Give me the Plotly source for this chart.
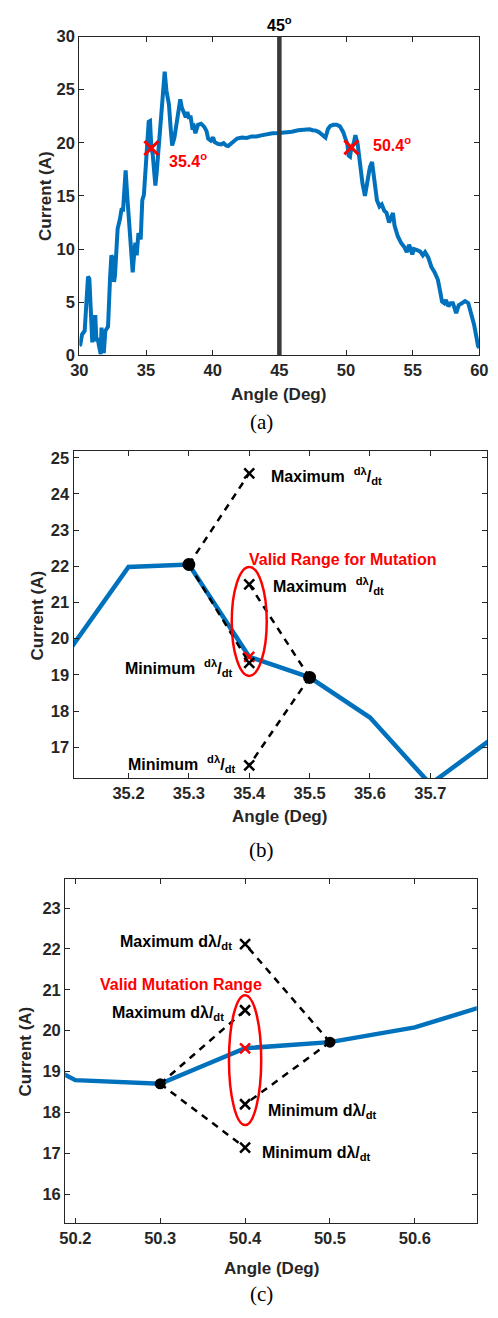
import plotly.graph_objects as go

# ---------------- data ----------------
angle = [30.0, 30.07, 30.2, 30.4, 30.55, 30.65, 30.75, 30.9, 30.97, 31.05, 31.2, 31.28, 31.37, 31.47,
         31.6, 31.66, 31.76, 31.83, 31.95, 32.15, 32.3, 32.4, 32.5, 32.6, 32.67, 32.77, 32.87, 33.04,
         33.16, 33.28, 33.4, 33.47, 33.59, 33.76, 33.88, 34.0, 34.12, 34.2, 34.3, 34.43, 34.6, 34.72,
         34.84, 34.96, 35.1, 35.2, 35.3, 35.4, 35.5, 35.6, 35.7, 35.8, 36.05, 36.24, 36.4, 36.53,
         36.72, 36.84, 36.96, 37.13, 37.3, 37.45, 37.57, 37.69, 37.8, 37.98, 38.1, 38.2, 38.35, 38.46,
         38.58, 38.7, 38.9, 39.13, 39.37, 39.54, 39.66, 39.86, 40.03, 40.15, 40.39, 40.63, 40.82, 41.0,
         41.16, 41.35, 41.59, 41.83, 42.2, 42.55, 42.92, 43.28, 43.64, 44.0, 44.48, 45.0, 45.45, 45.93,
         46.41, 46.9, 47.26, 47.5, 47.74, 47.98, 48.22, 48.46, 48.65, 48.82, 49.06, 49.3, 49.54, 49.79,
         49.98, 50.1, 50.2, 50.3, 50.4, 50.5, 50.6, 50.7, 50.87, 51.04, 51.23, 51.42, 51.59, 51.79,
         51.95, 52.15, 52.32, 52.51, 52.68, 52.87, 53.04, 53.23, 53.4, 53.52, 53.64, 53.88, 54.12, 54.36,
         54.56, 54.73, 54.97, 55.09, 55.33, 55.57, 55.76, 55.93, 56.17, 56.41, 56.65, 56.89, 57.06, 57.2,
         57.37, 57.49, 57.68, 57.85, 58.02, 58.26, 58.45, 58.69, 58.93, 59.17, 59.36, 59.6, 59.9, 60.0]
current = [0.9, 1.0, 1.95, 2.3, 5.4, 7.4, 7.2, 4.0, 1.2, 3.6, 3.6, 1.3, 1.6, 0.9,
           0.1, 2.6, 0.3, 0.2, 2.3, 2.7, 7.2, 9.4, 9.1, 6.9, 7.5, 9.1, 11.9, 12.8,
           13.7, 13.7, 17.4, 17.4, 15.0, 11.5, 9.1, 7.8, 9.7, 10.6, 9.4, 11.5, 10.9, 14.6,
           15.1, 17.1, 19.63, 21.98, 22.05, 19.5, 18.93, 17.82, 15.98, 17.21, 21.5, 24.2, 26.7, 24.9,
           23.6, 21.5, 19.75, 20.5, 22.1, 23.6, 24.1, 23.3, 23.0, 22.4, 22.9, 22.4, 22.4, 21.5,
           21.6, 20.9, 21.7, 21.8, 21.5, 21.1, 20.4, 20.2, 20.5, 20.06, 19.9, 19.85, 19.97, 19.75,
           19.7, 19.9, 20.1, 20.4, 20.5, 20.46, 20.6, 20.6, 20.7, 20.8, 20.9, 20.93, 20.96, 21.05,
           21.18, 21.27, 21.27, 21.18, 21.15, 21.0, 20.8, 20.5, 21.3, 21.6, 21.7, 21.7, 21.55, 21.0,
           20.3, 19.87, 18.79, 18.7, 19.57, 19.72, 20.08, 20.72, 19.9, 18.05, 16.2, 15.0, 16.2, 17.7,
           18.2, 16.5, 14.6, 14.0, 14.2, 13.6, 13.4, 12.5, 13.1, 13.4, 12.2, 11.2, 10.6, 10.2,
           9.7, 10.4, 9.5, 10.0, 9.9, 9.75, 9.4, 9.7, 9.2, 8.3, 7.8, 7.1, 6.0, 5.05,
           4.9, 5.2, 4.6, 4.9, 4.9, 3.95, 4.7, 4.9, 5.1, 4.9, 4.1, 2.9, 0.87, 0.7]

center_angle = 45
mut_angles_a = [35.4, 50.4]
mut_current_a = [19.5, 19.57]

# panel (b)
b_dot_x = [35.3, 35.5]
b_dot_y = [22.05, 18.93]
b_max_y = [24.57, 21.5]     # from dot 1, dot 2
b_min_y = [19.33, 16.5]     # from dot 1, dot 2
b_mut_x = 35.4
b_mut_y = 19.5
b_range_y = [18.97, 21.98]

# panel (c)
c_dot_x = [50.3, 50.5]
c_dot_y = [18.7, 19.72]
c_max_y = [20.5, 22.12]
c_min_y = [17.14, 18.2]
c_mut_x = 50.4
c_mut_y = 19.57
c_range_y = [17.69, 20.87]

W, H = 498, 1318
def px(x):
    return x / W
def py(y):
    return 1 - y / H

BLUE = "#0072BD"
AX = "#262626"
FONT = "Liberation Sans"

fig = go.Figure()

# ---- panel a ----
fig.add_trace(go.Scatter(x=angle, y=current, mode="lines", line=dict(color=BLUE, width=4),
                         xaxis="x", yaxis="y", showlegend=False))
fig.add_trace(go.Scatter(x=mut_angles_a, y=mut_current_a, mode="markers",
                         marker=dict(symbol="x-thin", size=14, line=dict(color="#FF0000", width=3)),
                         xaxis="x", yaxis="y", showlegend=False))

# ---- panel b / c shared helpers ----
def add_zoom(xa, ya, dot_x, dot_y, mut_x, mut_y, max_y, min_y, dot_size):
    fig.add_trace(go.Scatter(x=angle, y=current, mode="lines", line=dict(color=BLUE, width=4.5),
                             xaxis=xa, yaxis=ya, showlegend=False))
    lx, ly = [], []
    for i in range(2):
        for yy in (max_y[i], min_y[i]):
            lx += [dot_x[i], mut_x, None]
            ly += [dot_y[i], yy, None]
    fig.add_trace(go.Scatter(x=lx, y=ly, mode="lines",
                             line=dict(color="black", width=2.5, dash="7px,6px"),
                             xaxis=xa, yaxis=ya, showlegend=False))
    fig.add_trace(go.Scatter(x=[mut_x], y=[mut_y], mode="markers",
                             marker=dict(symbol="x-thin", size=10, line=dict(color="#FF0000", width=2.5)),
                             xaxis=xa, yaxis=ya, showlegend=False))
    fig.add_trace(go.Scatter(x=[mut_x] * 4, y=max_y + min_y, mode="markers",
                             marker=dict(symbol="x-thin", size=10, line=dict(color="black", width=2.5)),
                             xaxis=xa, yaxis=ya, showlegend=False))
    fig.add_trace(go.Scatter(x=dot_x, y=dot_y, mode="markers",
                             marker=dict(symbol="circle", size=dot_size, color="black"),
                             xaxis=xa, yaxis=ya, showlegend=False))

add_zoom("x2", "y2", b_dot_x, b_dot_y, b_mut_x, b_mut_y, b_max_y, b_min_y, 13)
add_zoom("x3", "y3", c_dot_x, c_dot_y, c_mut_x, c_mut_y, c_max_y, c_min_y, 11)

axis_common = dict(showline=True, linecolor=AX, linewidth=1.2, mirror="allticks", ticks="inside",
                   ticklen=5, tickwidth=1, tickcolor=AX, showgrid=False, zeroline=False,
                   tickfont=dict(family=FONT, size=16.5, color=AX, weight="bold"))

fig.update_layout(
    width=W, height=H, margin=dict(l=0, r=0, t=0, b=0),
    paper_bgcolor="white", plot_bgcolor="white",
    xaxis=dict(domain=[px(73), px(488)], range=[30, 60], dtick=5, anchor="y", **axis_common),
    yaxis=dict(domain=[py(351), py(28)], range=[0, 30], dtick=5, anchor="x", **axis_common),
    xaxis2=dict(domain=[px(67), px(496)], range=[35.109, 35.794], dtick=0.1, anchor="y2", **axis_common),
    yaxis2=dict(domain=[py(780), py(448)], range=[16.14, 25.19], dtick=1, anchor="x2", **axis_common),
    xaxis3=dict(domain=[px(58.3), px(485.3)], range=[50.188, 50.673], dtick=0.1, anchor="y3", **axis_common),
    yaxis3=dict(domain=[py(1231), py(881.7)], range=[15.29, 23.72], dtick=1, anchor="x3", **axis_common),
)

shapes = [
    dict(type="line", xref="x", yref="y domain", x0=center_angle, x1=center_angle, y0=0, y1=1,
         line=dict(color="#3a3a3a", width=4.5)),
    dict(type="circle", xref="x2", yref="y2", x0=b_mut_x - 0.029, x1=b_mut_x + 0.029,
         y0=b_range_y[0], y1=b_range_y[1], line=dict(color="#FF0000", width=2.5)),
    dict(type="circle", xref="x3", yref="y3", x0=c_mut_x - 0.019, x1=c_mut_x + 0.019,
         y0=c_range_y[0], y1=c_range_y[1], line=dict(color="#FF0000", width=2.5)),
]
fig.update_layout(shapes=shapes)

def bold(size, color="black"):
    return dict(family=FONT, size=size, color=color, weight="bold")

ann = []
C = dict(xanchor="center", yanchor="middle", showarrow=False)
# axis titles & captions
for (cx, cy), (ax_x, ax_y), (capx, capy), cap in [
        ((38, 190), (280, 391), (262, 419), "(a)"),
        ((30, 615), (281, 819), (262, 853), "(b)"),
        ((17.5, 1057), (272, 1277), (262, 1303), "(c)")]:
    ann.append(dict(text="Current (A)", xref="paper", yref="paper", x=px(cx), y=py(cy),
                    textangle=-90, font=bold(17, AX), **C))
    ann.append(dict(text="Angle (Deg)", xref="paper", yref="paper", x=px(ax_x), y=py(ax_y),
                    font=bold(17, AX), **C))
    ann.append(dict(text=cap, xref="paper", yref="paper", x=px(capx), y=py(capy),
                    font=dict(family="Liberation Serif", size=21, color="black"), **C))

# panel a labels
ann.append(dict(text="45<sup>o</sup>", xref="x", yref="paper", x=center_angle, y=py(15),
                font=bold(16), **C))
ann.append(dict(text="35.4<sup>o</sup>", xref="x", yref="y", x=36.6, y=18.4, xanchor="left",
                yanchor="middle", showarrow=False, font=bold(16, "#FF0000")))
ann.append(dict(text="50.4<sup>o</sup>", xref="x", yref="y", x=51.85, y=19.9, xanchor="left",
                yanchor="middle", showarrow=False, font=bold(16, "#FF0000")))

# panel b labels
bmax = "Maximum&nbsp;&nbsp;<sup>dλ</sup>/<sub>dt</sub>"
bmin = "Minimum&nbsp;&nbsp;<sup>dλ</sup>/<sub>dt</sub>"
L = dict(xanchor="left", yanchor="middle", showarrow=False)
R = dict(xanchor="right", yanchor="middle", showarrow=False)
ann += [
    dict(text=bmax, xref="x2", yref="y2", x=35.433, y=24.5, font=bold(16), **L),
    dict(text=bmax, xref="x2", yref="y2", x=35.436, y=21.45, font=bold(16), **L),
    dict(text=bmin, xref="x2", yref="y2", x=35.375, y=19.2, font=bold(16), **R),
    dict(text=bmin, xref="x2", yref="y2", x=35.38, y=16.55, font=bold(16), **R),
    dict(text="Valid Range for Mutation", xref="x2", yref="y2", x=35.556, y=22.19,
         font=bold(16, "#FF0000"), **C),
]
# panel c labels
cmax = "Maximum dλ/<sub>dt</sub>"
cmin = "Minimum dλ/<sub>dt</sub>"
ann += [
    dict(text=cmax, xref="x3", yref="y3", x=50.387, y=22.15, font=bold(16), **R),
    dict(text="Valid Mutation Range", xref="x3", yref="y3", x=50.324, y=21.13,
         font=bold(16, "#FF0000"), **C),
    dict(text=cmax, xref="x3", yref="y3", x=50.377, y=20.42, font=bold(16), **R),
    dict(text=cmin, xref="x3", yref="y3", x=50.425, y=18.02, font=bold(16), **L),
    dict(text=cmin, xref="x3", yref="y3", x=50.418, y=17.0, font=bold(16), **L),
]
fig.update_layout(annotations=ann)

fig.write_html("out.html")
